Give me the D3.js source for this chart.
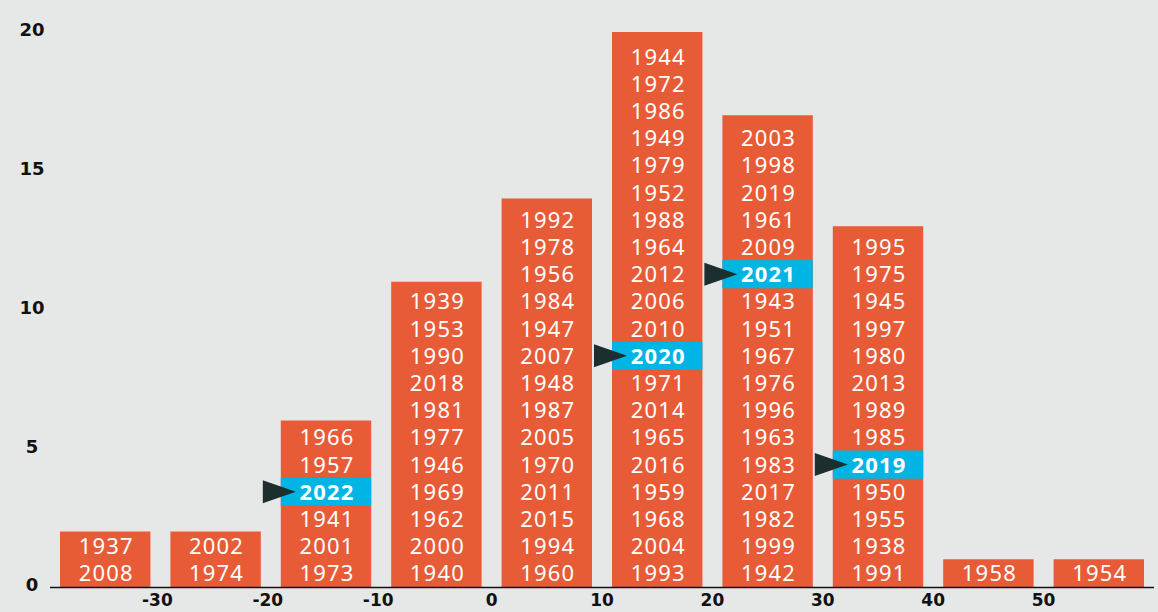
<!DOCTYPE html>
<html>
<head>
<meta charset="utf-8">
<script src="https://cdn.jsdelivr.net/npm/d3@7"></script>
<style>
  html, body { margin: 0; padding: 0; background: #e6e8e7; }
  svg { display: block; }
</style>
</head>
<body>
<svg id="chart" width="1158" height="612"></svg>
<script>
// Bin lower edges (width 10)
const bins = [-40, -30, -20, -10, 0, 10, 20, 30, 40, 50];

// Years in each bin, listed top to bottom as stacked in the bars
const years = [
  [1937, 2008],
  [2002, 1974],
  [1966, 1957, 2022, 1941, 2001, 1973],
  [1939, 1953, 1990, 2018, 1981, 1977, 1946, 1969, 1962, 2000, 1940],
  [1992, 1978, 1956, 1984, 1947, 2007, 1948, 1987, 2005, 1970, 2011, 2015, 1994, 1960],
  [1944, 1972, 1986, 1949, 1979, 1952, 1988, 1964, 2012, 2006, 2010, 2020, 1971, 2014, 1965, 2016, 1959, 1968, 2004, 1993],
  [2003, 1998, 2019, 1961, 2009, 2021, 1943, 1951, 1967, 1976, 1996, 1963, 1983, 2017, 1982, 1999, 1942],
  [1995, 1975, 1945, 1997, 1980, 2013, 1989, 1985, 2019, 1950, 1955, 1938, 1991],
  [1958],
  [1954]
];

// Highlighted years and the bin they sit in
const highlightBins = [-20, 10, 20, 30];
const highlightYears = [2022, 2020, 2021, 2019];

const xTicks = [-30, -20, -10, 0, 10, 20, 30, 40, 50];
const yTicks = [0, 5, 10, 15, 20];

const svg = d3.select('#chart');

const orange = '#e85b37';
const blue = '#00b4e4';
const dark = '#1d2e2e';

const x = d3.scaleLinear().domain([-40, 60]).range([50, 1154]);
const y = d3.scaleLinear().domain([0, 20]).range([587, 32]);
// row pitch of the stacked year labels
const row = d3.scaleLinear().domain([0, 20]).range([587, 43]);

const pad = 10;

const barData = bins.map((b, i) => ({ bin: b, years: years[i], n: years[i].length }));

// Bars
svg.selectAll('rect.bar')
  .data(barData)
  .enter()
  .append('rect')
  .attr('class', 'bar')
  .attr('x', d => x(d.bin) + pad)
  .attr('width', d => x(d.bin + 10) - x(d.bin) - 2 * pad)
  .attr('y', d => y(d.n))
  .attr('height', d => y(0) - y(d.n))
  .attr('fill', orange);

// Flatten year cells (index 0 = bottom row)
const cells = [];
barData.forEach(d => {
  d.years.forEach((yr, j) => {
    const k = d.n - 1 - j;
    const h = highlightBins.some((hb, m) => hb === d.bin && highlightYears[m] === yr);
    cells.push({ bin: d.bin, year: yr, k: k, hi: h });
  });
});

const hiCells = cells.filter(c => c.hi);

// Highlight boxes
svg.selectAll('rect.hi')
  .data(hiCells)
  .enter()
  .append('rect')
  .attr('class', 'hi')
  .attr('x', d => x(d.bin) + pad)
  .attr('width', d => x(d.bin + 10) - x(d.bin) - 2 * pad)
  .attr('y', d => row(d.k + 1) - 0.5)
  .attr('height', d => row(d.k) - row(d.k + 1) + 1)
  .attr('fill', blue);

// Pointer triangles
svg.selectAll('path.arrow')
  .data(hiCells)
  .enter()
  .append('path')
  .attr('class', 'arrow')
  .attr('d', d => {
    const x0 = x(d.bin) + pad;
    const cy = row(d.k + 0.5);
    return `M${x0 - 18},${cy - 11.5}L${x0 + 15},${cy}L${x0 - 18},${cy + 11.5}Z`;
  })
  .attr('fill', dark);

// Year labels
svg.selectAll('text.year')
  .data(cells)
  .enter()
  .append('text')
  .attr('class', 'year')
  .attr('x', d => (x(d.bin) + x(d.bin + 10)) / 2 + 1)
  .attr('y', d => row(d.k + 0.5))
  .attr('dy', '0.36em')
  .attr('text-anchor', 'middle')
  .attr('fill', '#fff')
  .style('font-family', '"Noto Sans", sans-serif')
  .style('font-size', '22px')
  .style('letter-spacing', '1.2px')
  .style('font-weight', d => d.hi ? 700 : 400)
  .text(d => d.year);

// Baseline
svg.append('line')
  .attr('x1', x(-40))
  .attr('x2', x(60))
  .attr('y1', y(0) + 0.5)
  .attr('y2', y(0) + 0.5)
  .attr('stroke', '#111')
  .attr('stroke-width', 1.5);

// X tick labels
svg.selectAll('text.xtick')
  .data(xTicks)
  .enter()
  .append('text')
  .attr('class', 'xtick')
  .attr('x', d => x(d) - (d < 0 ? 3 : 0))
  .attr('y', 606)
  .attr('text-anchor', 'middle')
  .attr('fill', '#111')
  .style('font-family', '"DejaVu Sans", sans-serif')
  .style('font-size', '17px')
  .style('font-weight', 700)
  .text(d => d);

// Y tick labels
svg.selectAll('text.ytick')
  .data(yTicks)
  .enter()
  .append('text')
  .attr('class', 'ytick')
  .attr('x', 32)
  .attr('y', d => y(d) - 2)
  .attr('dy', '0.35em')
  .attr('text-anchor', 'middle')
  .attr('fill', '#111')
  .style('font-family', '"DejaVu Sans", sans-serif')
  .style('font-size', '18px')
  .style('font-weight', 700)
  .text(d => d);
</script>
</body>
</html>
